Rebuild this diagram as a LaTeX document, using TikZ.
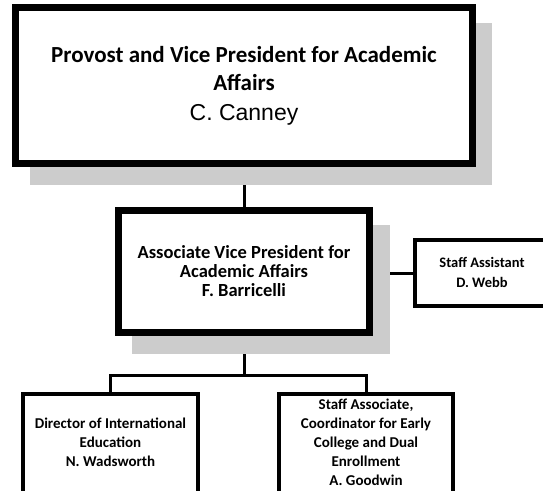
\documentclass[tikz,border=0pt]{standalone}
\usepackage{fontspec}
\setmainfont{Carlito}
\newfontfamily\namefont{Liberation Sans}
\usetikzlibrary{backgrounds}
\begin{document}
\begin{tikzpicture}[x=1pt,y=-1pt,
  heavybox/.style={draw=black, line width=7pt, fill=white, rectangle, inner sep=0pt, align=center},
  lightbox/.style={draw=black, line width=4pt, fill=white, rectangle, inner sep=0pt},
  boxtext/.style={align=center, inner sep=0pt},
  dropshadow/.style={fill=black!20, draw=none},
  link/.style={draw=black, line width=3pt}
]
\useasboundingbox (0,0) rectangle (543,490);
\clip (0,0) rectangle (543,490);

% shadows behind the two senior boxes
\fill[dropshadow] (30,23) rectangle (492,185);
\fill[dropshadow] (132,225) rectangle (390,354);

% Provost
\node[heavybox, minimum width=457pt, minimum height=156pt,
      font=\bfseries\fontsize{23}{28}\selectfont] (provost) at (244,85.5)
  {Provost and Vice President for Academic\\
   Affairs\\[2pt]
   {\namefont\mdseries C. Canney}};

% Associate Vice President
\node[heavybox, minimum width=251pt, minimum height=122.5pt,
      font=\bfseries\fontsize{18.5}{19}\selectfont] (avp) at (244,271.25)
  {Associate Vice President for\\
   Academic Affairs\\
   F. Barricelli};

% Staff Assistant (runs off the right edge)
\node[lightbox, minimum width=160pt, minimum height=66pt] (staff) at (495,273) {};
\node[boxtext, font=\bfseries\fontsize{14.5}{20}\selectfont] (stafftext) at (482,272)
  {Staff Assistant\\D. Webb};

% Director of International Education
\node[lightbox, minimum width=175pt, minimum height=116pt] (intl) at (110.5,452) {};
\node[boxtext, font=\bfseries\fontsize{15}{19}\selectfont] (intltext) at (110.5,442)
  {Director of International\\Education\\N. Wadsworth};

% Staff Associate / Early College and Dual Enrollment
\node[lightbox, minimum width=174pt, minimum height=116pt] (dual) at (366,452) {};
\node[boxtext, font=\bfseries\fontsize{15}{19}\selectfont] (dualtext) at (366,442)
  {Staff Associate,\\Coordinator for Early\\College and Dual\\Enrollment\\A. Goodwin};

% reporting lines
\coordinate (bus) at (244,375);
\begin{scope}[on background layer]
  \draw[link] (provost.south) -- (avp.north);
  \draw[link] (avp.east |- staff.west) -- (staff.west);
  \draw[link] (avp.south) -- (bus);
  \draw[link] (intl.north) |- (bus) -| (dual.north);
\end{scope}
\end{tikzpicture}
\end{document}
